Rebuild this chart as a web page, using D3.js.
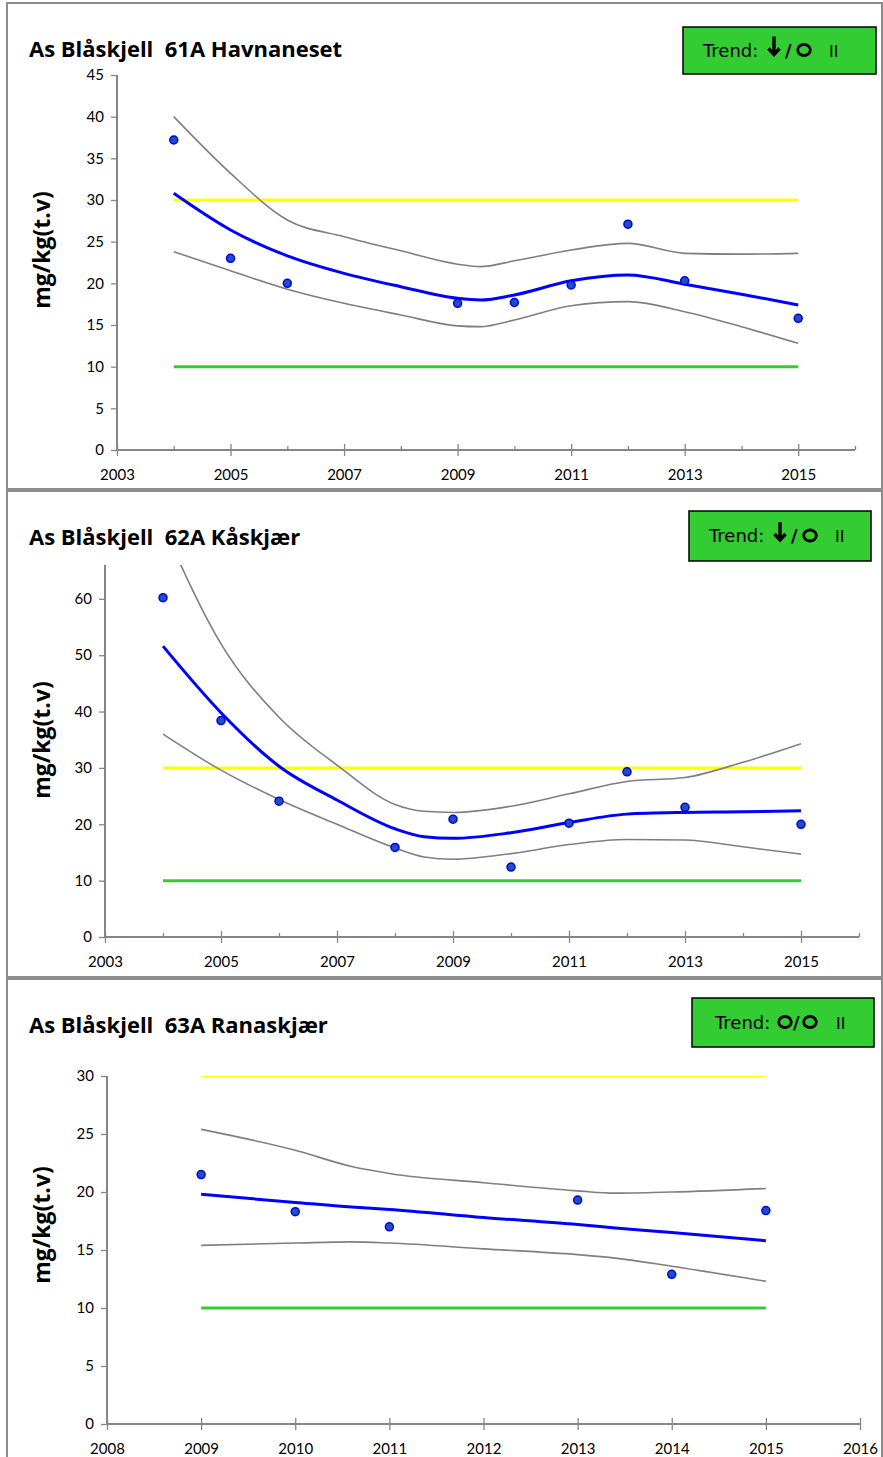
<!DOCTYPE html>
<html>
<head>
<meta charset="utf-8">
<script src="https://cdn.jsdelivr.net/npm/d3@7"></script>
<style>
  body { margin: 0; background: #fff; }
  svg { display: block; }
  text { white-space: pre; }
</style>
</head>
<body>
<script>
var W = 883, H = 1457;

// ---- data: 61A Havnaneset
var years61 = [2004, 2005, 2006, 2009, 2010, 2011, 2012, 2013, 2015];
var vals61 = [37.2, 23.0, 20.0, 17.6, 17.7, 19.8, 27.1, 20.3, 15.8];
var fitYears61 = [2004, 2005, 2006, 2007, 2008, 2009, 2009.4, 2010, 2011, 2012, 2013, 2014, 2015];
var fit61 = [30.8, 26.4, 23.3, 21.2, 19.6, 18.2, 18.0, 18.6, 20.3, 21.0, 19.9, 18.7, 17.4];
var upper61 = [40.0, 33.2, 27.6, 25.6, 23.9, 22.3, 22.0, 22.7, 24.0, 24.8, 23.6, 23.5, 23.6];
var lower61 = [23.8, 21.5, 19.3, 17.6, 16.2, 14.9, 14.8, 15.6, 17.3, 17.8, 16.6, 14.8, 12.8];

// ---- data: 62A Kåskjær
var years62 = [2004, 2005, 2006, 2008, 2009, 2010, 2011, 2012, 2013, 2015];
var vals62 = [60.2, 38.4, 24.1, 15.9, 20.9, 12.4, 20.2, 29.3, 23.0, 20.0];
var fitYears62 = [2004, 2005, 2006, 2007, 2008, 2008.5, 2009, 2010, 2011, 2012, 2013, 2014, 2015];
var fit62 = [51.6, 39.8, 30.3, 24.3, 19.2, 17.8, 17.5, 18.5, 20.3, 21.8, 22.1, 22.2, 22.4];
var upper62 = [73.0, 52.0, 39.0, 30.5, 23.5, 22.3, 22.1, 23.2, 25.4, 27.6, 28.3, 31.0, 34.3];
var lower62 = [36.0, 29.6, 24.4, 20.0, 15.8, 14.2, 13.8, 14.8, 16.4, 17.3, 17.2, 16.0, 14.7];

// ---- data: 63A Ranaskjær
var years63 = [2009, 2010, 2011, 2013, 2014, 2015];
var vals63 = [21.5, 18.3, 17.0, 19.3, 12.9, 18.4];
var fitYears63 = [2009, 2010, 2010.6, 2011, 2012, 2013, 2013.4, 2014, 2015];
var fit63 = [19.8, 19.1, 18.7, 18.5, 17.8, 17.2, 16.9, 16.5, 15.8];
var upper63 = [25.4, 23.6, 22.2, 21.6, 20.8, 20.1, 19.9, 20.0, 20.3];
var lower63 = [15.4, 15.6, 15.7, 15.6, 15.1, 14.6, 14.3, 13.6, 12.3];

// limit lines (class II upper / class I upper)
var limitHigh = 30, limitLow = 10;

var svg = d3.select("body").append("svg").attr("width", W).attr("height", H);

function trendSymbol(g, kind, cx, base) {
  if (kind == "down") {
    g.append("path").attr("d", "M" + cx + "," + (base - 20) + "V" + (base - 2)
        + "M" + (cx - 5.5) + "," + (base - 8) + "L" + cx + "," + (base - 2) + "L" + (cx + 5.5) + "," + (base - 8))
      .attr("fill", "none").attr("stroke", "#000").attr("stroke-width", 3.4);
  } else {
    g.append("ellipse").attr("cx", cx).attr("cy", base - 6.5).attr("rx", 6.3).attr("ry", 5.5)
      .attr("fill", "none").attr("stroke", "#000").attr("stroke-width", 2.8);
  }
}

function drawPanel(p) {
  var g = svg.append("g");
  // frame
  g.append("rect").attr("x", 7).attr("y", p.top).attr("width", 875).attr("height", p.bottom - p.top)
    .attr("fill", "none").attr("stroke", "#8c8c8c").attr("stroke-width", 2);

  var x = d3.scaleLinear().domain(p.xDomain).range([p.x0, p.x1]);
  var y = d3.scaleLinear().domain(p.yDomain).range([p.y0, p.y1]);

  var clipId = "clip" + p.id;
  g.append("clipPath").attr("id", clipId).append("rect")
    .attr("x", p.x0).attr("y", p.y1).attr("width", p.x1 - p.x0).attr("height", p.y0 - p.y1);

  // title
  g.append("text").attr("x", 29).attr("y", p.titleY).style("font-family", "'Open Sans', sans-serif")
    .attr("font-size", 22).attr("font-weight", "bold").attr("fill", "#000").text(p.title);

  // trend box
  var tb = p.trendBox;
  g.append("rect").attr("x", tb[0]).attr("y", tb[1]).attr("width", tb[2]).attr("height", tb[3])
    .attr("fill", "#33cc33").attr("stroke", "#000").attr("stroke-width", 1.5);
  var base = tb[1] + tb[3] / 2 + 6;
  var tg = g.append("g").style("font-family", "'DejaVu Sans', sans-serif");
  tg.append("text").attr("x", tb[0] + p.trendX[0]).attr("y", base).attr("font-size", 18).text("Trend:");
  trendSymbol(tg, p.trend[0], tb[0] + p.trendX[1], base);
  tg.append("text").attr("x", tb[0] + p.trendX[2]).attr("y", base)
    .attr("font-weight", "bold").attr("font-size", 18).text("/");
  trendSymbol(tg, p.trend[1], tb[0] + p.trendX[3], base);
  tg.append("text").attr("x", tb[0] + p.trendX[4]).attr("y", base).attr("font-size", 16).text("II");

  // y label
  g.append("text").attr("transform", "translate(" + 50 + "," + p.yLabelY + ") rotate(-90)")
    .style("font-family", "'Open Sans', sans-serif")
    .attr("text-anchor", "middle").attr("font-size", 23).attr("font-weight", "bold").text("mg/kg(t.v)");

  // axes
  var axisColor = "#868686";
  var ya = g.append("g").attr("transform", "translate(" + p.x0 + ",0)")
    .call(d3.axisLeft(y).tickValues(p.yTicks).tickSize(6).tickPadding(7).tickFormat(d3.format("d")));
  ya.select(".domain").attr("stroke", axisColor).attr("stroke-width", 2).attr("d", "M0," + p.y0 + "V" + p.y1);
  ya.selectAll(".tick line").attr("stroke", axisColor).attr("stroke-width", 1.3);
  ya.selectAll(".tick text").attr("font-size", 15).attr("fill", "#000").attr("font-family", "Lato, sans-serif");

  var xa = g.append("g").attr("transform", "translate(0," + p.y0 + ")")
    .call(d3.axisBottom(x).tickValues(p.xTicks).tickSize(6).tickPadding(13).tickFormat(d3.format("d")));
  xa.select(".domain").attr("stroke", axisColor).attr("stroke-width", 2).attr("d", "M" + p.x0 + ",0H" + p.x1);
  xa.selectAll(".tick line").attr("stroke", axisColor).attr("stroke-width", 1.3).attr("y1", -6).attr("y2", 6);
  xa.selectAll(".tick text").attr("font-size", 15).attr("fill", "#000").attr("font-family", "Lato, sans-serif");
  if (p.minorTicks) {
    var mn = g.append("g").attr("transform", "translate(0," + p.y0 + ")")
      .call(d3.axisBottom(x).tickValues(p.minorTicks).tickSize(0).tickFormat(""));
    mn.select(".domain").remove();
    mn.selectAll(".tick line").attr("stroke", axisColor).attr("stroke-width", 1.3).attr("y1", -4).attr("y2", 0);
  }

  var plot = g.append("g").attr("clip-path", "url(#" + clipId + ")");

  // limit lines
  plot.append("line").attr("x1", x(p.limitX[0])).attr("x2", x(p.limitX[1]))
    .attr("y1", y(limitHigh)).attr("y2", y(limitHigh)).attr("stroke", "#ffff00").attr("stroke-width", p.yellowW);
  plot.append("line").attr("x1", x(p.limitX[0])).attr("x2", x(p.limitX[1]))
    .attr("y1", y(limitLow)).attr("y2", y(limitLow)).attr("stroke", "#33cc33").attr("stroke-width", 3);

  var line = d3.line().x(function (d) { return x(d[0]); }).y(function (d) { return y(d[1]); })
    .curve(d3.curveMonotoneX);
  function pairs(xs, ys) { return xs.map(function (v, i) { return [v, ys[i]]; }); }

  plot.append("path").attr("d", line(pairs(p.fitYears, p.upper))).attr("fill", "none")
    .attr("stroke", "#7f7f7f").attr("stroke-width", 1.6);
  plot.append("path").attr("d", line(pairs(p.fitYears, p.lower))).attr("fill", "none")
    .attr("stroke", "#7f7f7f").attr("stroke-width", 1.6);
  plot.append("path").attr("d", line(pairs(p.fitYears, p.fit))).attr("fill", "none")
    .attr("stroke", "#0000ff").attr("stroke-width", 3);

  g.selectAll("circle.pt" + p.id).data(pairs(p.years, p.vals)).enter().append("circle")
    .attr("cx", function (d) { return x(d[0]); }).attr("cy", function (d) { return y(d[1]); })
    .attr("r", 4).attr("fill", "#1f4fb8").attr("stroke", "#0000ee").attr("stroke-width", 1.5);
}

drawPanel({
  id: 1, top: 3, bottom: 489, title: "As Blåskjell  61A Havnaneset", titleY: 57,
  trendBox: [683, 27, 193, 47], trend: ["down", "O"], trendX: [20, 91, 102, 121, 146], yLabelY: 250,
  xDomain: [2003, 2016], x0: 117, x1: 855, yDomain: [0, 45], y0: 450, y1: 75,
  yTicks: [0, 5, 10, 15, 20, 25, 30, 35, 40, 45], xTicks: [2003, 2005, 2007, 2009, 2011, 2013, 2015],
  minorTicks: [2004, 2006, 2008, 2010, 2012, 2014, 2016], limitX: [2004, 2015], yellowW: 3,
  years: years61, vals: vals61, fitYears: fitYears61, fit: fit61, upper: upper61, lower: lower61
});

drawPanel({
  id: 2, top: 491, bottom: 977, title: "As Blåskjell  62A Kåskjær", titleY: 545,
  trendBox: [689, 511, 182, 50], trend: ["down", "O"], trendX: [20, 91, 102, 121, 146], yLabelY: 740,
  xDomain: [2003, 2016], x0: 105, x1: 859, yDomain: [0, 66], y0: 937, y1: 565,
  yTicks: [0, 10, 20, 30, 40, 50, 60], xTicks: [2003, 2005, 2007, 2009, 2011, 2013, 2015],
  minorTicks: [2004, 2006, 2008, 2010, 2012, 2014, 2016], limitX: [2004, 2015], yellowW: 3,
  years: years62, vals: vals62, fitYears: fitYears62, fit: fit62, upper: upper62, lower: lower62
});

drawPanel({
  id: 3, top: 979, bottom: 1462, title: "As Blåskjell  63A Ranaskjær", titleY: 1033,
  trendBox: [692, 998, 182, 49], trend: ["O", "O"], trendX: [23, 93, 101, 118, 144], yLabelY: 1225,
  xDomain: [2008, 2016], x0: 107, x1: 860, yDomain: [0, 30], y0: 1424, y1: 1076,
  yTicks: [0, 5, 10, 15, 20, 25, 30], xTicks: [2008, 2009, 2010, 2011, 2012, 2013, 2014, 2015, 2016],
  minorTicks: null, limitX: [2009, 2015], yellowW: 2,
  years: years63, vals: vals63, fitYears: fitYears63, fit: fit63, upper: upper63, lower: lower63
});
</script>
</body>
</html>
